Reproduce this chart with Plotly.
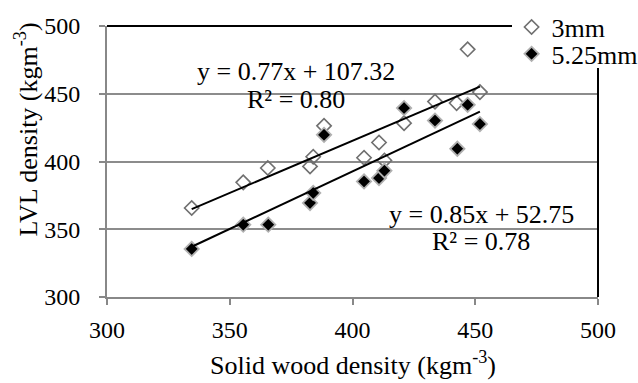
import plotly.graph_objects as go
import numpy as np

# --- data ---
solid_3mm = [334.5, 355.5, 365.5, 382.7, 384.0, 388.4, 404.7, 410.8, 413.0, 421.0, 433.6, 442.4, 446.9, 451.9]
lvl_3mm = [365.7, 384.6, 395.2, 396.4, 403.5, 426.3, 402.8, 414.0, 400.8, 428.3, 444.2, 443.1, 482.8, 451.2]

solid_525 = [334.5, 355.5, 365.7, 382.7, 384.0, 388.4, 404.7, 410.8, 413.0, 421.0, 433.6, 442.7, 446.9, 451.9]
lvl_525 = [335.5, 353.4, 353.4, 369.4, 376.8, 419.7, 385.3, 387.8, 393.2, 439.4, 430.2, 409.4, 441.8, 427.6]

fit_3mm = (0.77, 107.32, 0.80)
fit_525 = (0.85, 52.75, 0.78)

x_ticks = [300, 350, 400, 450, 500]
y_ticks = [300, 350, 400, 450, 500]

FONT = "Liberation Serif"

fig = go.Figure()

fig.add_trace(go.Scatter(
    x=solid_3mm, y=lvl_3mm, mode="markers", name="3mm", legend="legend",
    marker=dict(symbol="diamond-open", size=11, color="#707070", line=dict(width=1.6, color="#707070")),
))
fig.add_trace(go.Scatter(
    x=solid_525, y=lvl_525, mode="markers", name="5.25mm", legend="legend2",
    marker=dict(symbol="diamond", size=11, color="black", line=dict(width=1.8, color="#b0b0b0")),
))

for xs, (m, b, r2) in [(solid_3mm, fit_3mm), (solid_525, fit_525)]:
    xl = np.array([min(xs), max(xs)])
    fig.add_trace(go.Scatter(x=xl, y=m * xl + b, mode="lines", showlegend=False,
                             line=dict(color="black", width=2), hoverinfo="skip"))

annots = [
    dict(x=0.385, y=0.8306, text=f"y = {fit_3mm[0]:.2f}x + {fit_3mm[1]:.2f}"),
    dict(x=0.385, y=0.727, text=f"R² = {fit_3mm[2]:.2f}"),
    dict(x=0.762, y=0.304, text=f"y = {fit_525[0]:.2f}x + {fit_525[1]:.2f}"),
    dict(x=0.762, y=0.204, text=f"R² = {fit_525[2]:.2f}"),
]
for a in annots:
    fig.add_annotation(xref="x domain", yref="y domain", showarrow=False,
                       xanchor="center", yanchor="middle",
                       font=dict(family=FONT, size=26, color="black"), **a)

# axis titles
fig.add_annotation(xref="paper", yref="paper", x=0.5, y=-0.245, xanchor="center", yanchor="middle",
                   showarrow=False, text="Solid wood density (kgm<sup>-3</sup>)",
                   font=dict(family=FONT, size=26, color="black"))
fig.add_annotation(xref="paper", yref="paper", x=-0.162, y=0.62, xanchor="center", yanchor="middle",
                   showarrow=False, textangle=-90, text="LVL density (kgm<sup>-3</sup>)",
                   font=dict(family=FONT, size=26, color="black"))

# top and right border (partly hidden behind legend)
fig.add_shape(type="line", xref="x domain", yref="y domain", x0=0, x1=0.827, y0=1, y1=1,
              line=dict(color="black", width=2), layer="above")
fig.add_shape(type="line", xref="x domain", yref="y domain", x0=1, x1=1, y0=0, y1=0.845,
              line=dict(color="black", width=2), layer="above")

leg_common = dict(x=0.824, xanchor="left", yanchor="middle",
                  font=dict(family=FONT, size=26, color="black"), itemwidth=30)

fig.update_layout(
    width=638, height=383,
    margin=dict(l=107, r=40, t=26, b=85.5, autoexpand=False),
    paper_bgcolor="white", plot_bgcolor="white",
    font=dict(family=FONT, size=24, color="black"),
    showlegend=True,
    legend=dict(y=0.996, bgcolor="white", **leg_common),
    legend2=dict(y=0.897, bgcolor="rgba(0,0,0,0)", **leg_common),
    xaxis=dict(range=[300, 500], tickvals=x_ticks, showgrid=False, zeroline=False,
               showline=True, linecolor="#888888", linewidth=2,
               ticks="outside", ticklen=6, tickcolor="#888888", tickwidth=1.5,
               ticklabelstandoff=4,
               tickfont=dict(family=FONT, size=24)),
    yaxis=dict(range=[300, 500], tickvals=y_ticks, showgrid=True, gridcolor="#8c8c8c", gridwidth=1.5,
               zeroline=False, showline=True, linecolor="#888888", linewidth=2,
               ticks="outside", ticklen=6, tickcolor="#888888", tickwidth=1.5,
               ticklabelstandoff=14,
               tickfont=dict(family=FONT, size=24)),
)

fig.write_html("out.html", config={"displayModeBar": False},
               post_script="document.body.style.margin='0';document.body.style.overflow='hidden';")
